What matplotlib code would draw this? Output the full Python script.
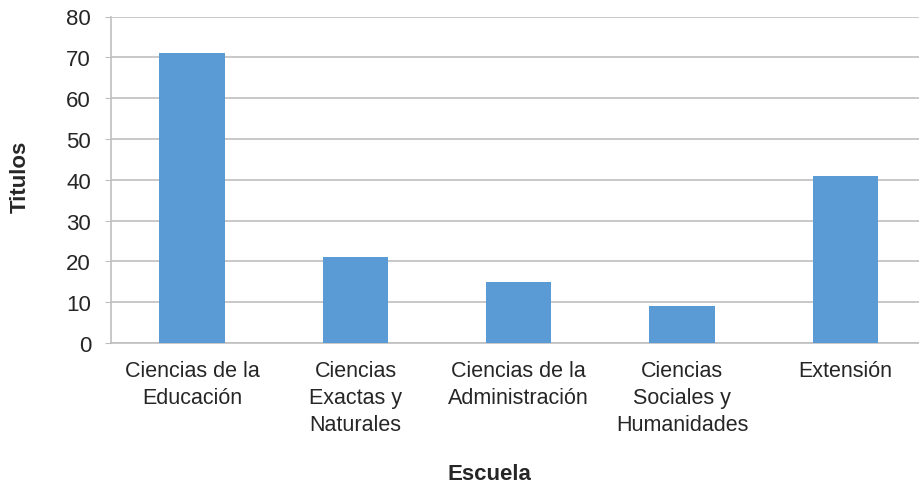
import matplotlib
matplotlib.use("Agg")
import matplotlib.pyplot as plt

# --- Data ---
escuelas = [
    "Ciencias de la\nEducación",
    "Ciencias\nExactas y\nNaturales",
    "Ciencias de la\nAdministración",
    "Ciencias\nSociales y\nHumanidades",
    "Extensión",
]
titulos = [71, 21, 15, 9, 41]
y_ticks = [0, 10, 20, 30, 40, 50, 60, 70, 80]

plt.rcParams['font.family'] = ['Liberation Sans', 'DejaVu Sans']
TXT = '#262626'
GRID = '#BFBFBF'

W, H = 919, 485
fig = plt.figure(figsize=(W / 100, H / 100), dpi=100)
# axes spans past the right edge, as in the cropped original
ax = fig.add_axes([110.5 / W, 1 - 344 / H, (927 - 110.5) / W, (344 - 17.5) / H])

x = range(len(escuelas))
ax.bar(x, titulos, width=0.4, color='#5B9BD5', zorder=3)

ax.set_ylim(0, 80)
ax.set_xlim(-0.5, len(escuelas) - 0.5)
ax.set_yticks(y_ticks)
ax.set_xticks(list(x))
ax.set_xticklabels(escuelas, fontsize=15.5, color=TXT, linespacing=1.4)
ax.tick_params(axis='y', labelsize=16, labelcolor=TXT, length=4,
               color=GRID, pad=10)
ax.tick_params(axis='x', length=0, pad=12)

ax.grid(axis='y', color=GRID, linewidth=1.2, zorder=0)
for s in ['top', 'right']:
    ax.spines[s].set_visible(False)
for s in ['left', 'bottom']:
    ax.spines[s].set_color(GRID)
    ax.spines[s].set_linewidth(1.2)

fig.text(20 / W, 1 - 177 / H, "Titulos", rotation=90, ha='center', va='center',
         fontsize=16, fontweight='bold', color=TXT)
fig.text(489 / W, 1 - 475 / H, "Escuela", ha='center', va='center',
         fontsize=16, fontweight='bold', color=TXT)

fig.savefig("out.png", dpi=100)
